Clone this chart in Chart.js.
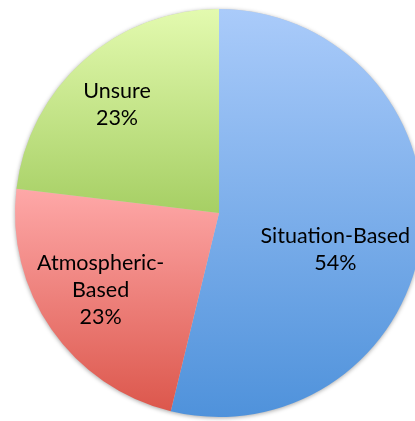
<!DOCTYPE html>
<html>
<head>
<meta charset="utf-8">
<script src="https://cdn.jsdelivr.net/npm/chart.js@4.4.1/dist/chart.umd.min.js"></script>
<style>
html,body{margin:0;padding:0;background:#fff;overflow:hidden;width:415px;height:421px;}
#wrap{position:absolute;left:0;top:0;width:438px;height:421px;}
</style>
</head>
<body>
<div id="wrap"><canvas id="c" width="438" height="421"></canvas></div>
<script>
const categories = ["Situation-Based", "Atmospheric-Based", "Unsure"];
const labelLines = [["Situation-Based"], ["Atmospheric-", "Based"], ["Unsure"]];
const values = [53.8, 23.1, 23.1];
const percentLabels = ["54%", "23%", "23%"];
const topColors = ["#aacbfa", "#fea8a8", "#e3faaf"];
const bottomColors = ["#4f92db", "#dc574c", "#a6cf64"];
// label centre offsets, as fractions of radius from the pie centre
const labelOffsets = [[0.57, 0.18], [-0.58, 0.38], [-0.50, -0.53]];

function arcBox(a){
  const pts = [[a.x, a.y]];
  const r = a.outerRadius;
  let s = a.startAngle, e = a.endAngle;
  pts.push([a.x + r*Math.cos(s), a.y + r*Math.sin(s)]);
  pts.push([a.x + r*Math.cos(e), a.y + r*Math.sin(e)]);
  for (let k = -4; k <= 8; k++){
    const ang = k*Math.PI/2;
    if (ang > s && ang < e) pts.push([a.x + r*Math.cos(ang), a.y + r*Math.sin(ang)]);
  }
  let top = Infinity, bot = -Infinity;
  pts.forEach(p => { top = Math.min(top, p[1]); bot = Math.max(bot, p[1]); });
  return [top, bot];
}

const gradPlugin = {
  id: 'grad',
  beforeDatasetDraw(chart, args){
    const ctx = chart.ctx;
    const meta = chart.getDatasetMeta(args.index);
    meta.data.forEach((arc, i) => {
      const [t, b] = arcBox(arc);
      const g = ctx.createLinearGradient(0, t, 0, b);
      g.addColorStop(0, topColors[i]);
      g.addColorStop(1, bottomColors[i]);
      arc.options.backgroundColor = g;
    });
    ctx.save();
    const a0 = meta.data[0];
    ctx.beginPath();
    ctx.arc(a0.x, a0.y, a0.outerRadius, 0, Math.PI*2);
    ctx.shadowColor = 'rgba(0,0,0,0.35)';
    ctx.shadowBlur = 4;
    ctx.shadowOffsetX = 0;
    ctx.shadowOffsetY = 1;
    ctx.fillStyle = '#cccccc';
    ctx.fill();
    ctx.restore();
  }
};

const labelPlugin = {
  id: 'lbls',
  afterDatasetsDraw(chart){
    const ctx = chart.ctx;
    const meta = chart.getDatasetMeta(0);
    ctx.save();
    ctx.fillStyle = '#000';
    ctx.font = '21.5px Lato, "Open Sans", sans-serif';
    ctx.textAlign = 'center';
    ctx.textBaseline = 'middle';
    meta.data.forEach((arc, i) => {
      const r = arc.outerRadius;
      const cx = arc.x + labelOffsets[i][0]*r;
      const cy = arc.y + labelOffsets[i][1]*r;
      const lines = labelLines[i].concat([percentLabels[i]]);
      const lh = 27;
      const y0 = cy - (lines.length - 1)*lh/2;
      lines.forEach((ln, k) => ctx.fillText(ln, cx, y0 + k*lh));
    });
    ctx.restore();
  }
};

new Chart(document.getElementById('c'), {
  type: 'pie',
  data: {
    labels: categories,
    datasets: [{
      data: values,
      backgroundColor: topColors,
      borderWidth: 0,
      hoverOffset: 0
    }]
  },
  options: {
    responsive: false,
    animation: false,
    layout: { padding: { top: 9, bottom: 4, left: 0, right: 0 } },
    plugins: { legend: { display: false }, tooltip: { enabled: false } }
  },
  plugins: [gradPlugin, labelPlugin]
});
</script>
</body>
</html>
